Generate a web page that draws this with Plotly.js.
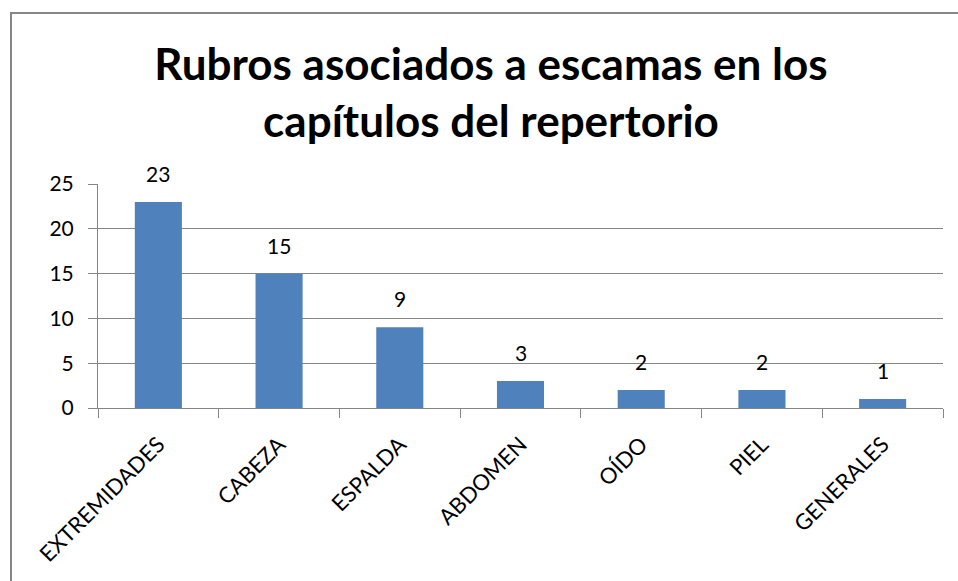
<!DOCTYPE html>
<html>
<head>
<meta charset="utf-8">
<script src="https://cdn.plot.ly/plotly-3.0.1.min.js"></script>
<style>html,body{margin:0;padding:0;background:#fff;}#chart{width:958px;height:581px;}</style>
</head>
<body>
<div id="chart"></div>
<script>
var categories = ["EXTREMIDADES", "CABEZA", "ESPALDA", "ABDOMEN", "OÍDO", "PIEL", "GENERALES"];
var values = [23, 15, 9, 3, 2, 2, 1];
var yTicks = [0, 5, 10, 15, 20, 25];

var fontFam = "Lato, 'Open Sans', sans-serif";
var L = 98, R = 943, T = 184, B = 408, W = 958, H = 581;
var pw = R - L, ph = B - T;
function px(x){ return (x - L) / pw; }
function py(y){ return (B - y) / ph; }

var trace = {
  type: 'bar',
  x: categories,
  y: values,
  marker: {color: '#4F81BD'},
  width: 0.39,
  hoverinfo: 'none'
};

var labels = categories.map(function(c, i){
  return {
    x: c, y: values[i], xref: 'x', yref: 'y',
    text: String(values[i]), showarrow: false,
    yanchor: 'bottom', xanchor: 'center', yshift: 14,
    font: {family: fontFam, size: 21, color: '#000'}
  };
});

var layout = {
  width: W, height: H,
  margin: {l: L, r: W - R, t: T, b: H - B, pad: 0},
  paper_bgcolor: '#fff', plot_bgcolor: '#fff',
  showlegend: false,
  title: {
    text: '<b>Rubros asociados a escamas en los<br>capítulos del repertorio</b>',
    font: {family: fontFam, size: 44, color: '#000'},
    x: px(491), xref: 'paper', xanchor: 'center',
    y: 1 - 80/H, yanchor: 'middle'
  },
  xaxis: {
    type: 'category',
    tickangle: -45,
    tickfont: {family: fontFam, size: 22, color: '#000'},
    showline: true, linecolor: '#868686', linewidth: 1,
    ticks: 'outside', ticklen: 9, tickcolor: '#868686',
    tickson: 'boundaries',
    ticklabelstandoff: 14,
    showgrid: false, zeroline: false,
    fixedrange: true
  },
  yaxis: {
    range: [0, 25],
    tickvals: yTicks,
    ticktext: yTicks.map(String),
    tickfont: {family: fontFam, size: 21, color: '#000'},
    showline: true, linecolor: '#868686', linewidth: 1,
    ticks: 'outside', ticklen: 9, tickcolor: '#868686',
    ticklabelstandoff: 10,
    showgrid: true, gridcolor: '#868686', gridwidth: 1,
    zeroline: false,
    fixedrange: true
  },
  annotations: labels,
  shapes: [{
    type: 'rect', xref: 'paper', yref: 'paper',
    x0: px(11), x1: px(1000), y0: py(700), y1: py(13),
    line: {color: '#868686', width: 2}, fillcolor: 'rgba(0,0,0,0)', layer: 'below'
  }]
};

Plotly.newPlot('chart', [trace], layout, {displayModeBar: false, staticPlot: true});
</script>
</body>
</html>
